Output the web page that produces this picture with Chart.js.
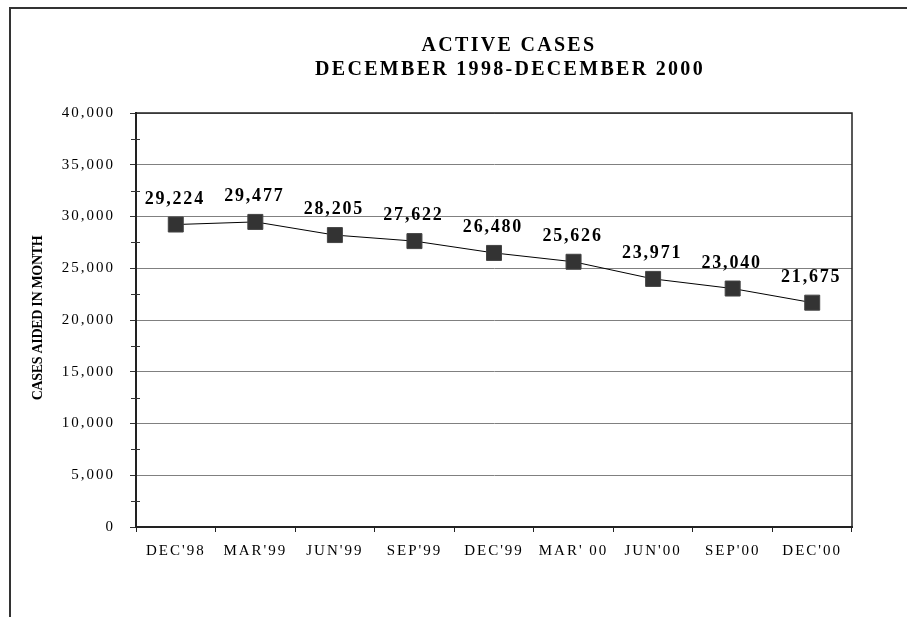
<!DOCTYPE html>
<html>
<head>
<meta charset="utf-8">
<script src="https://cdn.jsdelivr.net/npm/chart.js@4.4.1/dist/chart.umd.min.js"></script>
<style>
  html, body { margin: 0; padding: 0; background: #fff; overflow: hidden; }
  #frame {
    position: absolute; left: 9px; top: 7px; width: 2000px; height: 2000px;
    border-left: 2px solid #333; border-top: 2px solid #333;
  }
  #chart { position: absolute; left: 0; top: 0; }
</style>
</head>
<body>
<div id="frame"></div>
<canvas id="chart" width="907" height="617"></canvas>
<script>
  const months = ["DEC'98", "MAR'99", "JUN'99", "SEP'99", "DEC'99", "MAR' 00", "JUN'00", "SEP'00", "DEC'00"];
  const activeCases = [29224, 29477, 28205, 27622, 26480, 25626, 23971, 23040, 21675];
  const titleLines = ["ACTIVE CASES", "DECEMBER 1998-DECEMBER 2000"];
  const yTitle = "CASES AIDED IN MONTH";
  const yMax = 40000;
  const yStep = 5000;

  const serif = "'Liberation Serif', 'Times New Roman', serif";

  // titles, plot frame, minor ticks and value labels
  const decor = {
    id: 'decor',
    beforeDraw(chart) {
      chart.ctx.letterSpacing = '2px';
    },
    beforeDatasetsDraw(chart) {
      const { ctx, chartArea: a, scales: { y } } = chart;
      ctx.save();
      ctx.strokeStyle = '#222';
      ctx.lineWidth = 1.5;
      ctx.beginPath();
      ctx.moveTo(a.left, a.top);
      ctx.lineTo(a.right, a.top);
      ctx.lineTo(a.right, a.bottom);
      ctx.stroke();
      ctx.lineWidth = 1;
      ctx.strokeStyle = '#333';
      ctx.beginPath();
      for (let v = yStep / 2; v < yMax; v += yStep) {
        const py = Math.round(y.getPixelForValue(v)) + 0.5;
        ctx.moveTo(a.left - 5, py);
        ctx.lineTo(a.left + 4, py);
      }
      ctx.stroke();
      ctx.restore();
    },
    afterDatasetsDraw(chart) {
      const { ctx } = chart;
      const meta = chart.getDatasetMeta(0);
      ctx.save();
      ctx.letterSpacing = '1.8px';
      ctx.font = 'bold 18px ' + serif;
      ctx.fillStyle = '#000';
      ctx.textAlign = 'center';
      ctx.textBaseline = 'alphabetic';
      meta.data.forEach((pt, i) => {
        ctx.fillText(activeCases[i].toLocaleString('en-US'), pt.x - 1, pt.y - 21);
      });
      ctx.restore();
    },
    afterDraw(chart) {
      const { ctx, chartArea: a } = chart;
      ctx.save();
      ctx.fillStyle = '#000';
      ctx.textAlign = 'center';
      ctx.textBaseline = 'alphabetic';
      ctx.letterSpacing = '2.3px';
      ctx.font = 'bold 20px ' + serif;
      ctx.fillText(titleLines[0], 509, 51);
      ctx.fillText(titleLines[1], 510, 75);

      ctx.letterSpacing = '-0.3px';
      ctx.font = 'bold 14px ' + serif;
      ctx.translate(42, (a.top + a.bottom) / 2 - 2);
      ctx.rotate(-Math.PI / 2);
      ctx.fillText(yTitle, 0, 0);
      ctx.restore();
    }
  };

  new Chart(document.getElementById('chart'), {
    type: 'line',
    data: {
      labels: months,
      datasets: [{
        data: activeCases,
        borderColor: '#000',
        borderWidth: 1,
        pointStyle: 'rect',
        pointRadius: 10.6,
        pointHoverRadius: 10.6,
        pointBackgroundColor: '#333',
        pointBorderColor: '#444',
        pointBorderWidth: 1,
        tension: 0
      }]
    },
    options: {
      responsive: false,
      animation: false,
      devicePixelRatio: 1,
      layout: { padding: { left: 0, right: 55, top: 113, bottom: 50 } },
      plugins: {
        legend: { display: false },
        title: { display: false },
        tooltip: { enabled: false }
      },
      scales: {
        x: {
          offset: true,
          afterFit: s => { s.height = 40; },
          grid: {
            offset: true,
            drawOnChartArea: false,
            drawTicks: true,
            tickLength: 5,
            tickColor: '#222',
            tickWidth: 1
          },
          border: { color: '#222', width: 2 },
          ticks: {
            color: '#000',
            font: { family: serif, size: 15 },
            padding: 10,
            maxRotation: 0,
            autoSkip: false
          }
        },
        y: {
          min: 0,
          max: yMax,
          afterFit: s => { s.width = 136; },
          grid: {
            color: '#808080',
            lineWidth: 1,
            tickColor: '#333',
            tickLength: 6
          },
          border: { color: '#222', width: 2 },
          ticks: {
            stepSize: yStep,
            color: '#000',
            font: { family: serif, size: 15 },
            padding: 15,
            callback: v => v.toLocaleString('en-US')
          }
        }
      }
    },
    plugins: [decor]
  });
</script>
</body>
</html>
